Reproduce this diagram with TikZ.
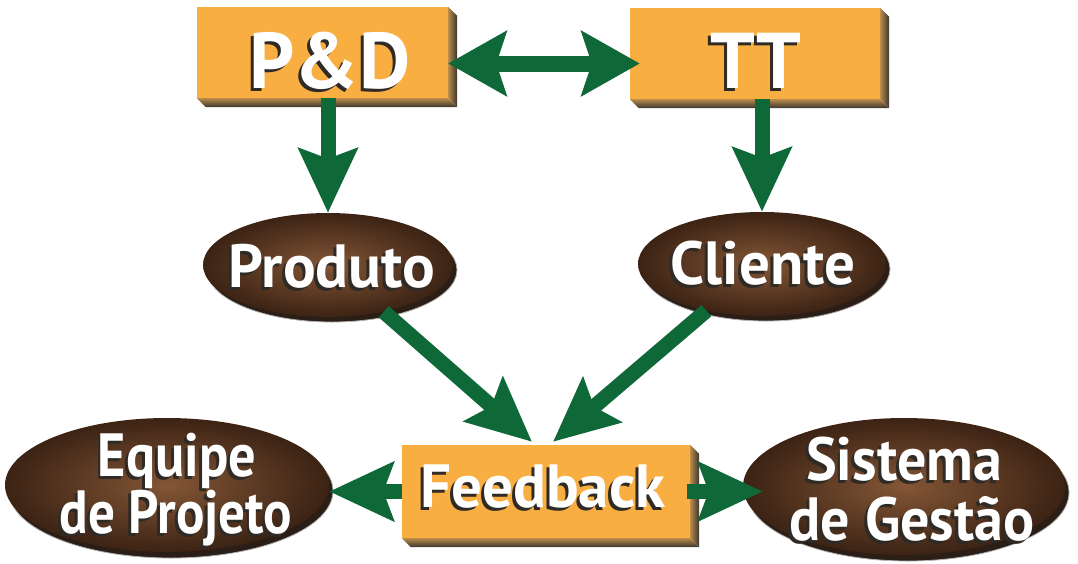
\documentclass[tikz,border=0pt]{standalone}
\usepackage{fontspec}
\usepackage{graphicx}
\setmainfont{PT Sans}
\usetikzlibrary{shapes.geometric,arrows.meta,calc}
\definecolor{orng}{HTML}{F9AE42}
\definecolor{grn}{HTML}{0E6838}
\definecolor{brin}{HTML}{835636}
\definecolor{brout}{HTML}{3C2314}
\definecolor{elsh}{HTML}{2B1E16}
\definecolor{txsh}{HTML}{2E2A26}
\definecolor{bvin}{HTML}{B98B4A}
\definecolor{bvout}{HTML}{3A3530}
\newcommand\stxt[1]{\makebox[0pt][l]{\hspace{-3pt}\raisebox{-3pt}{\textcolor{txsh}{#1}}}\textcolor{white}{#1}}
\newcommand\stxtx[2]{\scalebox{#1}[1]{\stxt{#2}}}
\newcommand\boxbevel[1]{%
  \shade[left color=bvin, right color=bvout] (#1.north east) -- ++(9,9) -- ($(#1.south east)+(9,9)$) -- (#1.south east) -- cycle;
  \shade[top color=bvin, bottom color=bvout] (#1.south west) -- ++(9,9) -- ($(#1.south east)+(9,9)$) -- (#1.south east) -- cycle;}
\tikzset{
  obox/.style={rectangle, fill=orng, inner sep=0pt},
  oval/.style={ellipse, inner sep=0pt, shade, shading=radial, inner color=brin, outer color=brout},
  lbl/.style={inner sep=0pt, anchor=base, font=\bfseries\fontsize{61pt}{61pt}\selectfont},
  big/.style={inner sep=0pt, anchor=base, font=\bfseries\fontsize{79pt}{79pt}\selectfont},
  arr/.style={draw=grn, line width=15pt, -{Stealth[length=64pt,width=58pt,inset=10pt]}},
  darr/.style={draw=grn, line width=16pt, {Stealth[length=58pt,width=64pt,inset=10pt]}-{Stealth[length=58pt,width=64pt,inset=10pt]}},
  ovsh/.style={fill=elsh, draw=gray!60, line width=0.8pt}
}
\begin{document}
\begin{tikzpicture}[x=1pt,y=-1pt]
\useasboundingbox (0,0) rectangle (1078,563);
% centres
\coordinate (cprod) at (328,265);
\coordinate (ccli) at (762,264);
\coordinate (ceq) at (167,485);
\coordinate (csis) at (904,486.5);
% ellipse shadows
\path[ovsh] ($(cprod)+(4,5)$) ellipse [x radius=125pt, y radius=52pt];
\path[ovsh] ($(ccli)+(4,5)$) ellipse [x radius=124pt, y radius=52pt];
\path[ovsh] ($(ceq)+(4,6)$) ellipse [x radius=162pt, y radius=67pt];
\path[ovsh] ($(csis)+(4,6)$) ellipse [x radius=161pt, y radius=68.5pt];
% ellipses
\node[oval, minimum width=250pt, minimum height=104pt] (prod) at (cprod) {};
\node[oval, minimum width=248pt, minimum height=104pt] (cli) at (ccli) {};
\node[oval, minimum width=324pt, minimum height=134pt] (eq) at (ceq) {};
\node[oval, minimum width=322pt, minimum height=137pt] (sis) at (csis) {};
% boxes
\node[obox, minimum width=251pt, minimum height=91pt] (pd) at (322.5,52.5) {};
\node[obox, minimum width=250pt, minimum height=91pt] (tt) at (755,53.5) {};
\node[obox, minimum width=288pt, minimum height=93pt] (fb) at (546,491.5) {};
\boxbevel{pd}
\boxbevel{tt}
\boxbevel{fb}
% arrows
\draw[darr] ($(pd.east)+(0,11)$) -- ($(tt.west)+(10,10)$);
\draw[arr] (pd.south -| prod.north) -- (prod.north);
\draw[arr] (tt.south -| cli.north) -- (cli.north);
\draw[arr] (prod.-40) -- ($(fb.north)+(-14,-3)$);
\draw[arr] (cli.-140) -- ($(fb.north)+(7,-3)$);
\draw[arr] (fb.west) -- (fb.west -| eq.east);
\draw[arr] ($(fb.east)+(-3,0)$) -- ($(fb.east -| sis.west)+(20,0)$);
% texts
\node[big] (pdt) at (330,88) {\stxt{P\&D}};
\node[big] (ttt) at (756,88) {\stxt{TT}};
\node[lbl] (prodt) at (332,287) {\stxt{Produto}};
\node[lbl] (clit) at (763,284) {\stxt{Cliente}};
\node[lbl] (fbt) at (543,507) {\stxt{Feedback}};
\node[lbl] (eqa) at (177,476) {\stxtx{0.89}{Equipe}};
\node[lbl] (eqb) at (176,533) {\stxtx{0.87}{de Projeto}};
\node[lbl] (sisa) at (904,480) {\stxtx{0.95}{Sistema}};
\node[lbl] (sisb) at (912,540) {\stxtx{0.95}{de Gestão}};
\end{tikzpicture}
\end{document}
